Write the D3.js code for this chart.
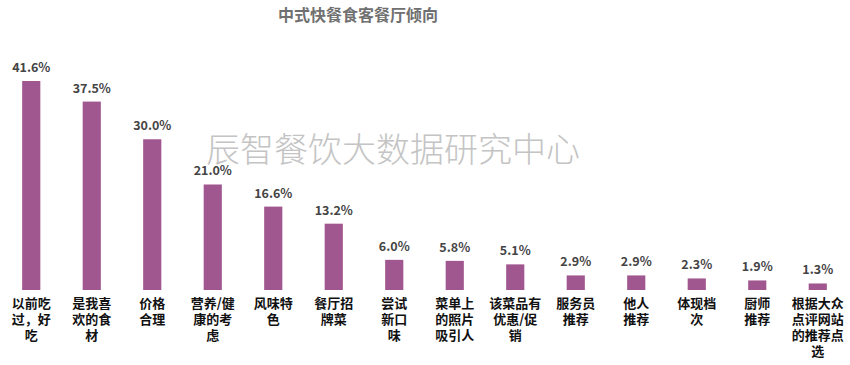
<!DOCTYPE html>
<html>
<head>
	<meta charset="UTF-8">
	<title>中式快餐食客餐厅倾向</title>
	<script src="https://cdn.jsdelivr.net/npm/d3@7"></script>
	<style>
		body { margin: 0; background: #fff; }
		text { font-family: "Noto Sans CJK SC", "Noto Sans", sans-serif; }
	</style>
</head>
<body>
	<script>
		// data
		var categories = [
			['以前吃', '过，好', '吃'],
			['是我喜', '欢的食', '材'],
			['价格', '合理'],
			['营养/健', '康的考', '虑'],
			['风味特', '色'],
			['餐厅招', '牌菜'],
			['尝试', '新口', '味'],
			['菜单上', '的照片', '吸引人'],
			['该菜品有', '优惠/促', '销'],
			['服务员', '推荐'],
			['他人', '推荐'],
			['体现档', '次'],
			['厨师', '推荐'],
			['根据大众', '点评网站', '的推荐点', '选']
		];
		var values = [41.6, 37.5, 30.0, 21.0, 16.6, 13.2, 6.0, 5.8, 5.1, 2.9, 2.9, 2.3, 1.9, 1.3];
		var title = '中式快餐食客餐厅倾向';
		var watermark = '辰智餐饮大数据研究中心';

		var W = 850, H = 365;
		var svg = d3.select('body').append('svg')
			.attr('width', W)
			.attr('height', H);

		var idx = d3.range(values.length);

		// set the ranges
		var x = d3.scaleBand()
			.domain(idx)
			.range([1, 848])
			.paddingInner(0.7)
			.paddingOuter(0.35);
		var y = d3.scaleLinear()
			.domain([0, 41.6])
			.range([290, 81]);

		// title
		svg.append('text')
			.attr('x', 358)
			.attr('y', 21)
			.attr('text-anchor', 'middle')
			.attr('font-size', 16)
			.attr('font-weight', 'bold')
			.attr('fill', '#707070')
			.text(title);

		// watermark
		svg.append('text')
			.attr('x', 393)
			.attr('y', 162)
			.attr('text-anchor', 'middle')
			.attr('font-size', 34)
			.attr('fill', '#c4c4c4')
			.attr('font-weight', 300)
			.text(watermark);

		// bars
		svg.selectAll('rect.bar')
			.data(values)
			.enter().append('rect')
			.attr('class', 'bar')
			.attr('x', function(d, i) { return x(i); })
			.attr('y', function(d) { return y(d); })
			.attr('width', x.bandwidth())
			.attr('height', function(d) { return y(0) - y(d); })
			.attr('fill', '#a0568e');

		// value labels
		svg.selectAll('text.val')
			.data(values)
			.enter().append('text')
			.attr('class', 'val')
			.attr('x', function(d, i) { return x(i) + x.bandwidth() / 2; })
			.attr('y', function(d) { return y(d) - 9; })
			.attr('text-anchor', 'middle')
			.attr('font-size', 12.5)
			.attr('font-weight', 'bold')
			.attr('fill', '#444')
			.text(function(d) { return d.toFixed(1) + '%'; });

		// category labels
		var cat = svg.selectAll('text.cat')
			.data(categories)
			.enter().append('text')
			.attr('class', 'cat')
			.attr('text-anchor', 'middle')
			.attr('font-size', 13)
			.attr('font-weight', 'bold')
			.attr('fill', '#111');
		cat.selectAll('tspan')
			.data(function(d, i) { return d.map(function(s) { return {s: s, i: i}; }); })
			.enter().append('tspan')
			.attr('x', function(d) { return x(d.i) + x.bandwidth() / 2; })
			.attr('y', function(d, j) { return 308 + j * 16; })
			.text(function(d) { return d.s; });
	</script>
</body>
</html>
